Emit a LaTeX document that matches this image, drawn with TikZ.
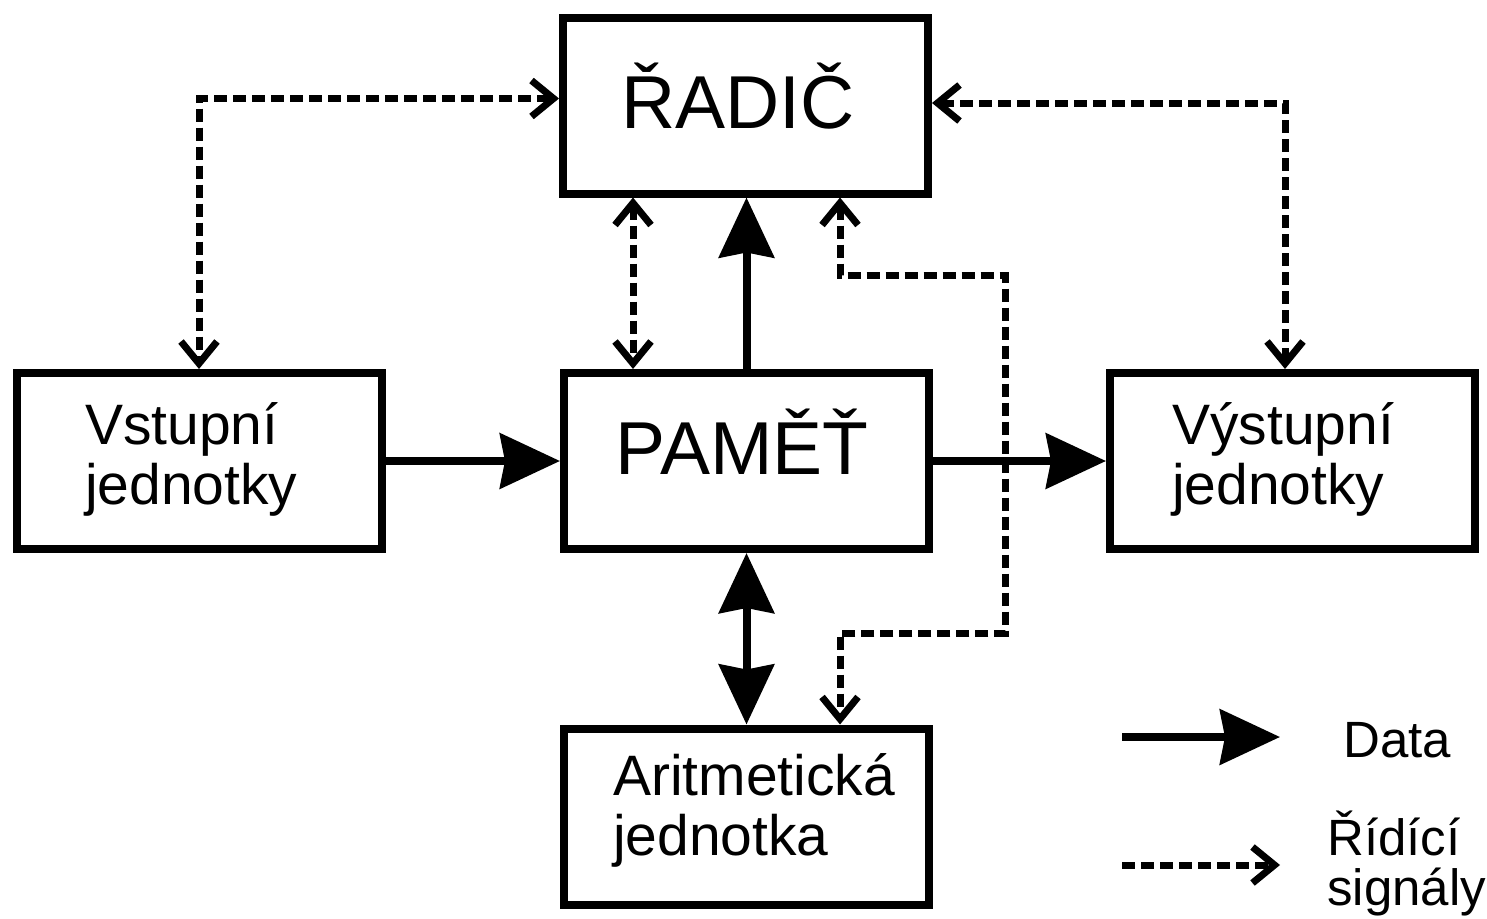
\documentclass[tikz,border=0pt]{standalone}
\usepackage{fontspec}
\setmainfont{Liberation Sans}
\usetikzlibrary{arrows.meta,calc}
\begin{document}
\begin{tikzpicture}[x=1pt,y=-1pt,
  box/.style={draw,line width=8pt,rectangle,minimum width=365pt,minimum height=176pt,inner sep=0pt},
  big/.style={font=\fontsize{75}{80}\selectfont,inner sep=0pt},
  mid/.style={font=\fontsize{57}{60}\selectfont,inner sep=0pt,align=left},
  small/.style={font=\fontsize{51}{50}\selectfont,inner sep=0pt,align=left},
  data/.style={line width=8pt,-{Stealth[length=60pt,width=55pt,inset=5pt]}},
  datab/.style={line width=8pt,{Stealth[length=60pt,width=55pt,inset=5pt]}-{Stealth[length=60pt,width=55pt,inset=5pt]}},
  sig/.style={line width=7pt,dash pattern=on 13pt off 6pt,{Straight Barb[length=22pt,width=36pt]}-{Straight Barb[length=22pt,width=36pt]}},
  sigr/.style={line width=7pt,dash pattern=on 13pt off 6pt,-{Straight Barb[length=22pt,width=36pt]}}
]
\useasboundingbox (0,0) rectangle (1487,918);
\node[box] (R) at (745.5,105.5) {};
\node[box] (P) at (746.5,461) {};
\node[box] (V) at (199,461) {};
\node[box] (Y) at (1292.5,461) {};
\node[box] (A) at (746.5,816.5) {};
% texts
\node[big,anchor=base] (tR) at (738,128) {ŘADIČ};
\node[big,anchor=base] (tP) at (742,474) {PAMĚŤ};
\node[mid,anchor=base west] (tV) at (85,504) {Vstupní\\jednotky};
\node[mid,anchor=base west] (tY) at (1172,504) {Výstupní\\jednotky};
\node[mid,anchor=base west] (tA) at (613,855) {Aritmetická\\jednotka};
% data connectors
\draw[data] (V) -- (P);
\draw[data] (P) -- (Y);
\draw[data] (P.north) -- (P.north |- R.south);
\draw[datab] (P.south) -- (A.north);
% signal connectors
\draw[sig] ([yshift=7pt]R.west) -| (V.north);
\draw[sig] ([xshift=-112.5pt]R.south) -- ([xshift=-113.5pt]P.north);
\coordinate (k1) at (1005,275);
\coordinate (k2) at (1005,633);
\draw[sig] ([xshift=94.5pt]R.south) |- (k1) -- (k2) -| ([xshift=93.5pt]A.north);
\draw[sig] ([yshift=2.5pt]R.east) -| ([xshift=-7.5pt]Y.north);
% legend
\coordinate (d1) at (1122,737);
\coordinate (d2) at (1280,737);
\draw[data] (d1) -- (d2);
\node[small,anchor=base west] (tD) at (1343,757) {Data};
\coordinate (s1) at (1122,865);
\coordinate (s2) at (1280,865);
\draw[sigr] (s1) -- (s2);
\node[small,anchor=base west] (tS) at (1327,905) {Řídící\\signály};
\end{tikzpicture}
\end{document}
